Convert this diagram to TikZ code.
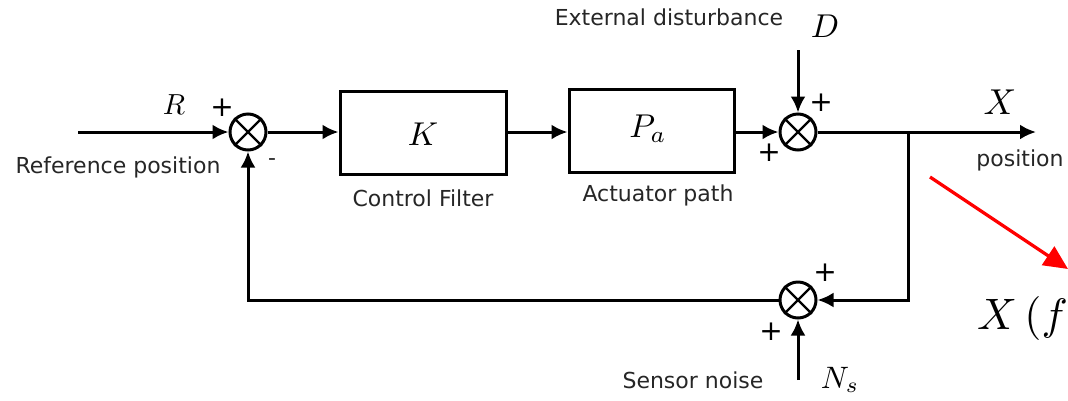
\documentclass[tikz,border=0pt]{standalone}
\usepackage{graphicx}
\usepackage{fontspec}
\setsansfont{DejaVu Sans}
\usetikzlibrary{arrows.meta}
\newcommand{\mysym}[2]{\scalebox{#1}{$#2$}}
\begin{document}
\begin{tikzpicture}[x=1pt,y=-1pt,
  wire/.style={line width=3pt},
  sig/.style={wire,-{Latex[length=16pt,width=15pt]}},
  blockbox/.style={draw,line width=3pt,inner sep=0pt},
  sumj/.style={draw,circle,line width=3pt,minimum size=36pt,inner sep=0pt},
  lbl/.style={font=\sffamily\fontsize{22}{26}\selectfont,text=black!85,inner sep=0pt},
  sgn/.style={font=\sffamily\fontsize{28}{30}\selectfont,text=black,inner sep=0pt},
  mth/.style={inner sep=0pt,font=\fontsize{10}{12}\selectfont}
]
\useasboundingbox (0,0) rectangle (1068,400);
% blocks
\node[blockbox,minimum width=166pt,minimum height=83pt] (K) at (423,132.5) {};
\node[mth] (Klab) at (423,134) {\mysym{3.3}{K}};
\node[blockbox,minimum width=165pt,minimum height=83pt] (Pa) at (651.5,131) {};
\node[mth] (Palab) at (648,129) {\mysym{3.3}{P_a}};
\node[lbl] (cf) at (423,198) {Control Filter};
\node[lbl] (ap) at (658,195) {Actuator path};
% summing junctions
\node[sumj] (j1) at (248,132) {};
\node[sumj] (j2) at (798,132) {};
\node[sumj] (j3) at (798,300) {};
\foreach \j in {j1,j2,j3}{
  \draw[wire,line width=2.4pt] (\j.north west) -- (\j.south east) (\j.north east) -- (\j.south west);
}
% coordinates
\coordinate (rin) at (78,132);
\coordinate (din) at (798,50);
\coordinate (nin) at (798,380);
\coordinate (xout) at (1036,132);
\coordinate (br) at (908,132);
\coordinate (fbc) at (248,300);
\coordinate (ra) at (930,177);
\coordinate (rb) at (1068,269);
% connectors
\draw[sig] (rin) -- (j1.west);
\draw[sig] (j1.east) -- (j1.east -| K.west);
\draw[sig] (K.east |- j1) -- (j1 -| Pa.west);
\draw[sig] (Pa.east |- j2) -- (j2.west);
\draw[sig] (din) -- (j2.north);
\draw[sig] (j2.east) -- (xout);
\draw[sig] (br) -- (br |- j3) -- (j3.east);
\draw[sig] (nin) -- (j3.south);
\draw[sig] (j3.west) -- (fbc) -- (j1.south);
\draw[line width=3.2pt,red,-{Triangle[length=24pt,width=22pt]}] (ra) -- (rb);
% labels
\node[mth] (Rl) at (174,105) {\mysym{2.9}{R}};
\node[sgn] (p1) at (222,108) {+};
\node[lbl] (m1) at (272,162) {-};
\node[lbl] (refpos) at (118,167) {Reference position};
\node[mth] (Dl) at (825,26) {\mysym{3.3}{D}};
\node[lbl] (ext) at (669,17) {External disturbance};
\node[sgn] (p2a) at (821,103) {+};
\node[sgn] (p2b) at (769,153) {+};
\node[mth] (Xl) at (1000,102) {\mysym{3.6}{X}};
\node[lbl] (pos) at (1020,160) {position};
\node[sgn] (p3a) at (825,273) {+};
\node[sgn] (p3b) at (771,332) {+};
\node[mth] (Nl) at (840,380) {\mysym{3.1}{N_s}};
\node[lbl] (sn) at (693,380) {Sensor noise};
\node[mth,anchor=west] (Xf) at (977,318) {\mysym{4.4}{X\,(f}};
\end{tikzpicture}
\end{document}
